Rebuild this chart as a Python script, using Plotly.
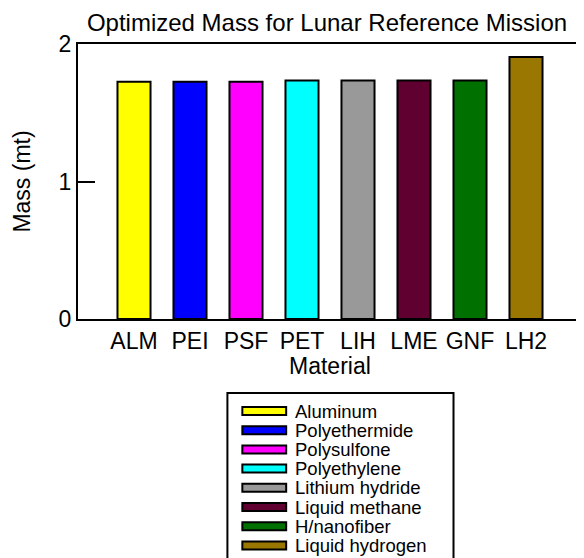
import plotly.graph_objects as go

codes = ["ALM", "PEI", "PSF", "PET", "LIH", "LME", "GNF", "LH2"]
names = ["Aluminum", "Polyethermide", "Polysulfone", "Polyethylene",
         "Lithium hydride", "Liquid methane", "H/nanofiber", "Liquid hydrogen"]
mass = [1.725, 1.725, 1.725, 1.735, 1.735, 1.735, 1.735, 1.905]
colors = ["#FFFF00", "#0000FF", "#FF00FF", "#00FFFF", "#999999",
          "#600030", "#007000", "#997700"]

FONT = "Arial, Liberation Sans, sans-serif"

# page body has an 8px margin; figure is sized so the plot frame lands where the reference has it
W, H = 576, 550
PL, PR, PT, PB = 78, 584, 44, 319          # plot-area edges in window pixels
OFF = 8
pw, ph = PR - PL, PB - PT


def px(x):
    return (x - PL) / pw


def py(y):
    return (PB - y) / ph


fig = go.Figure()
fig.add_trace(go.Bar(
    x=codes, y=mass,
    marker=dict(color=colors, line=dict(color="black", width=2)),
    showlegend=False,
))

shapes = []
annotations = []
shapes.append(dict(type="rect", xref="paper", yref="paper",
                   x0=px(228), x1=px(455), y0=py(620), y1=py(393),
                   line=dict(color="black", width=2), fillcolor="white", layer="above"))
for i, (nm, col) in enumerate(zip(names, colors)):
    yc = 411 + 19.2 * i
    shapes.append(dict(type="rect", xref="paper", yref="paper",
                       x0=px(243), x1=px(287), y0=py(yc + 4), y1=py(yc - 4),
                       line=dict(color="black", width=2), fillcolor=col, layer="above"))
    annotations.append(dict(xref="paper", yref="paper", x=px(294), y=py(yc),
                            text=nm, showarrow=False, xanchor="left", yanchor="middle",
                            font=dict(family=FONT, size=18.5, color="black")))

# x-axis title placed as text just under the tick labels
annotations.append(dict(xref="paper", yref="paper", x=0.5, y=py(366),
                        text="Material", showarrow=False, xanchor="center", yanchor="middle",
                        font=dict(family=FONT, size=23, color="black")))

fig.update_layout(
    width=W, height=H,
    margin=dict(l=PL - OFF, r=0, t=PT - OFF, b=H - (PB - OFF)),
    paper_bgcolor="white", plot_bgcolor="white",
    font=dict(family=FONT, size=23, color="black"),
    title=dict(text="Optimized Mass for Lunar Reference Mission",
               x=(327 - OFF) / W, xanchor="center", y=1 - (23 - OFF) / H, yanchor="middle",
               font=dict(family=FONT, size=24, color="black")),
    bargap=0.41,
    shapes=shapes,
    annotations=annotations,
)
fig.update_xaxes(
    range=[-1.0, 8.0], showline=True, linecolor="black", linewidth=2,
    mirror=True, ticks="", showgrid=False,
    tickfont=dict(family=FONT, size=23),
)
fig.update_yaxes(
    range=[0, 2], tickvals=[0, 1, 2], ticktext=["0", "1", "2"],
    showline=True, linecolor="black", linewidth=2, mirror=True,
    ticks="inside", ticklen=17, tickwidth=2, tickcolor="black",
    showgrid=False, zeroline=False,
    title=dict(text="Mass (mt)", standoff=22, font=dict(family=FONT, size=23)),
    tickfont=dict(family=FONT, size=23),
)

fig.write_html("out.html")
